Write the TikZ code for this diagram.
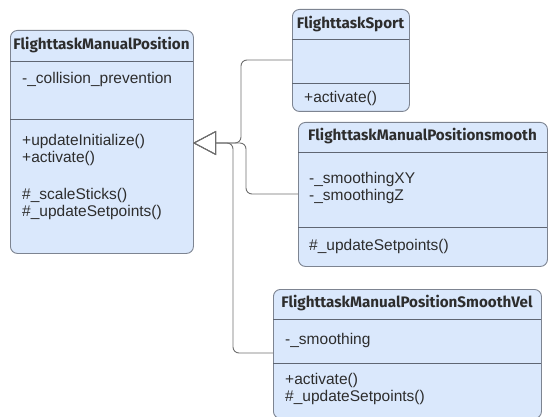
\documentclass[tikz,border=0pt]{standalone}
\usepackage{fontspec}
\setmainfont{Liberation Sans}
\newfontfamily\titlefont{Fira Sans}
\usetikzlibrary{arrows.meta}
\definecolor{classfill}{RGB}{218,232,252}
\definecolor{classedge}{RGB}{125,132,145}
\definecolor{divline}{RGB}{95,102,115}
\definecolor{linkline}{RGB}{110,110,110}
\definecolor{textcol}{RGB}{45,45,45}
\tikzset{
  classbox/.style={draw=classedge, fill=classfill, line width=0.9pt,
    rounded corners=7pt, rectangle, anchor=north west, inner sep=0pt},
  divider/.style={draw=divline, line width=0.8pt},
  titletext/.style={font=\titlefont\bfseries\fontsize{15.2}{17}\selectfont,
    text=textcol, inner sep=0pt},
  membertext/.style={font=\fontsize{15.5}{17}\selectfont, text=textcol,
    inner sep=0pt, anchor=west, align=left},
  inherit/.style={draw=linkline, line width=0.9pt, rounded corners=6pt,
    -{Triangle[open, length=23pt, width=24pt, line width=0.9pt]}},
}
\begin{document}
\begin{tikzpicture}[x=1pt, y=-1pt]
\useasboundingbox (0,0) rectangle (549,417);

% FlighttaskManualPosition
\node[classbox, minimum width=183pt, minimum height=223pt] (mp) at (10,30) {};
\draw[divider] (10,61) -- (193,61);
\draw[divider] (10,119) -- (193,119);
\node[titletext] (mpT) at (101.5,45) {FlighttaskManualPosition};
\node[membertext] (mpA) at (22,79) {-\_collision\_prevention};
\node[membertext] (mpM) at (22,150) {+updateInitialize()\\+activate()};
\node[membertext] (mpP) at (22,204) {\#\_scaleSticks()\\\#\_updateSetpoints()};

% FlighttaskSport
\node[classbox, minimum width=117pt, minimum height=102pt] (sp) at (292,9) {};
\draw[divider] (292,39) -- (409,39);
\draw[divider] (292,83) -- (409,83);
\node[titletext] (spT) at (350.5,24) {FlighttaskSport};
\node[membertext] (spM) at (304,98) {+activate()};

% FlighttaskManualPositionsmooth
\node[classbox, minimum width=249pt, minimum height=144pt] (ps) at (298,122) {};
\draw[divider] (298,152) -- (547,152);
\draw[divider] (298,227) -- (547,227);
\node[titletext] (psT) at (422.5,136) {FlighttaskManualPositionsmooth};
\node[membertext] (psA) at (309,188) {-\_smoothingXY\\-\_smoothingZ};
\node[membertext] (psM) at (309,246) {\#\_updateSetpoints()};

% FlighttaskManualPositionSmoothVel
\node[classbox, minimum width=268pt, minimum height=129pt] (sv) at (273,289) {};
\draw[divider] (273,319) -- (541,319);
\draw[divider] (273,363) -- (541,363);
\node[titletext] (svT) at (407,303) {FlighttaskManualPositionSmoothVel};
\node[membertext] (svA) at (285,340) {-\_smoothing};
\node[membertext] (svM) at (285,389) {+activate()\\\#\_updateSetpoints()};

% inheritance links to the base class
\coordinate (tip) at (193,143);
\draw[inherit] (sp.west |- 0,60) -| (241,143) -- (tip);
\draw[inherit] (ps.west |- 0,194) -| (246,143) -- (tip);
\draw[inherit] (sv.west |- 0,353) -| (233,143) -- (tip);
\end{tikzpicture}
\end{document}
